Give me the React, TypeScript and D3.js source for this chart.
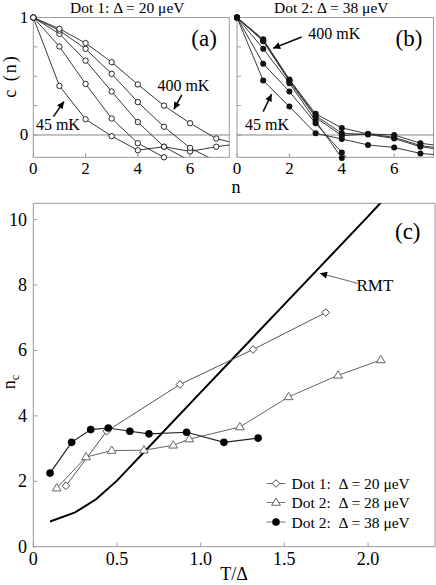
import * as d3 from 'd3';

const FONT = '"Liberation Serif", "Times New Roman", serif';

// ---- panel (a): Dot 1, c(n) at several temperatures, 45 mK (lowest) to 400 mK (top)
const A_45MK = [1, 0.418, 0.134, -0.01, -0.13, -0.1, -0.14, -0.1, -0.07];
const A_T2 = [1, 0.753, 0.435, 0.14, -0.07, -0.19];
const A_T3 = [1, 0.861, 0.633, 0.37, 0.11, -0.1, -0.22];
const A_T4 = [1, 0.889, 0.733, 0.52, 0.28, 0.07, -0.11, -0.225];
const A_400MK = [1, 0.904, 0.782, 0.62, 0.43, 0.25, 0.1, -0.03, -0.087];

// ---- panel (b): Dot 2
const B_45MK = [1, 0.464, 0.242, 0.014, -0.034, -0.085, -0.106, -0.157, -0.175];
const B_T2 = [1, 0.607, 0.37, 0.1, -0.149, -0.4];
const B_T3 = [1, 0.735, 0.441, 0.12, -0.197, -0.45];
const B_T4 = [1, 0.797, 0.458, 0.15, -0.006, 0.009, -0.02, -0.09, -0.12];
const B_T5 = [1, 0.805, 0.465, 0.165, 0.014, 0.005, -0.03, -0.1, -0.13];
const B_400MK = [1, 0.815, 0.473, 0.18, 0.06, 0.009, 0.0, -0.07, -0.1];

const N_TICKS = [0, 2, 4, 6];
const C_TICKS = [0, 0.25, 0.5, 0.75, 1];
const C_LABELS = [0, 1];

// ---- panel (c): n_c vs T/Delta
const RMT_T = [0.1, 0.25, 0.375, 0.5, 0.75, 1.0, 1.5, 2.0, 2.2];
const RMT_N = [0.77, 1.05, 1.45, 2.02, 3.37, 4.72, 7.41, 10.1, 11.2];

const DOT1_T = [0.195, 0.438, 0.876, 1.313, 1.747];
const DOT1_N = [1.86, 3.53, 4.96, 6.03, 7.16];

const DOT2_28_T = [0.14, 0.315, 0.468, 0.661, 0.836, 0.932, 1.234, 1.525, 1.821, 2.076];
const DOT2_28_N = [1.79, 2.74, 2.94, 2.95, 3.1, 3.29, 3.66, 4.58, 5.24, 5.71];

const DOT2_38_T = [0.1, 0.229, 0.343, 0.448, 0.577, 0.691, 0.916, 1.139, 1.343];
const DOT2_38_N = [2.25, 3.19, 3.58, 3.63, 3.53, 3.45, 3.5, 3.19, 3.32];

const T_TICKS = [0, 0.5, 1, 1.5, 2];
const T_TICK_LABELS = ['0', '0.5', '1.0', '1.5', '2.0'];
const NC_TICKS = [0, 2, 4, 6, 8, 10];

const LEGEND = ['Dot 1:  \u0394 = 20 \u03bceV', 'Dot 2:  \u0394 = 28 \u03bceV', 'Dot 2:  \u0394 = 38 \u03bceV'];

const AXIS = '#9a9a9a';

type Ann = { text: string; tx: number; ty: number; head: [number, number]; tail: [number, number] };

function SmallPanel({
  id, left, right, curves, filled, title, tag, showY, anns,
}: {
  id: string; left: number; right: number; curves: number[][]; filled: boolean;
  title: string; tag: string; showY: boolean; anns: Ann[];
}) {
  const top = 17.5;
  const bottom = 157.3;
  const x = d3.scaleLinear().domain([0, 7.5]).range([left, right]);
  const y = d3.scaleLinear().domain([-0.19, 1]).range([bottom, top]);
  const line = d3.line<number>().x((_, i) => x(i)).y(d => y(d));

  return (
    <g>
      <clipPath id={`clip-${id}`}>
        <rect x={left} y={top} width={right - left} height={bottom - top} />
      </clipPath>
      <rect x={left} y={top} width={right - left} height={bottom - top} fill="none" stroke={AXIS} strokeWidth={1} />
      {/* zero line */}
      <line x1={left} x2={right} y1={y(0)} y2={y(0)} stroke="#777" strokeWidth={0.9} />
      {C_TICKS.map(t => (
        <line key={t} x1={left} x2={left + 4} y1={y(t)} y2={y(t)} stroke={AXIS} />
      ))}
      {N_TICKS.map(t => (
        <g key={t}>
          <line x1={x(t)} x2={x(t)} y1={bottom} y2={bottom - 4} stroke={AXIS} />
          <text x={x(t)} y={174} textAnchor="middle" fontSize={17} fontFamily={FONT}>{t}</text>
        </g>
      ))}
      {showY && C_LABELS.map(t => (
        <text key={t} x={left - 5} y={y(t)} textAnchor="end" dominantBaseline="central" fontSize={17} fontFamily={FONT}>{t}</text>
      ))}
      <text x={(left + right) / 2 - 4} y={13} textAnchor="middle" fontSize={15.5} fontFamily={FONT}>{title}</text>
      <text x={right - 38} y={46} fontSize={23} fontFamily={FONT}>{tag}</text>

      <g clipPath={`url(#clip-${id})`}>
        {curves.map((c, i) => (
          <path key={i} d={line(c) ?? ''} fill="none" stroke="#222" strokeWidth={0.9} />
        ))}
      </g>
      {curves.map((c, i) =>
        c.map((v, n) => (n <= 7 && v >= -0.2 ? (
          <circle key={`${i}-${n}`} cx={x(n)} cy={y(v)} r={filled ? 3 : 2.7}
            fill={filled ? '#111' : '#fff'} stroke="#111" strokeWidth={filled ? 0 : 0.9} />
        ) : null))
      )}
      {anns.map(a => (
        <g key={a.text}>
          <text x={x(a.tx)} y={y(a.ty)} fontSize={16} fontFamily={FONT}>{a.text}</text>
          <line x1={x(a.tail[0])} y1={y(a.tail[1])} x2={x(a.head[0])} y2={y(a.head[1])}
            stroke="#111" strokeWidth={1.6} markerEnd="url(#ah)" />
        </g>
      ))}
    </g>
  );
}

function diamond(cx: number, cy: number, r: number) {
  return `M${cx},${cy - r}L${cx + r},${cy}L${cx},${cy + r}L${cx - r},${cy}Z`;
}
function triangle(cx: number, cy: number, r: number) {
  return `M${cx},${cy - r}L${cx + r * 0.95},${cy + r * 0.6}L${cx - r * 0.95},${cy + r * 0.6}Z`;
}

function PanelC() {
  const left = 33.3, right = 435, top = 203.3, bottom = 546.7;
  const x = d3.scaleLinear().domain([0, 2.4]).range([left, right]);
  const y = d3.scaleLinear().domain([0, 10.5]).range([bottom, top]);
  const line = d3.line<[number, number]>().x(d => x(d[0])).y(d => y(d[1]));
  const zip = (a: number[], b: number[]) => a.map((v, i) => [v, b[i]] as [number, number]);

  const rmt = zip(RMT_T, RMT_N);
  const d1 = zip(DOT1_T, DOT1_N);
  const d28 = zip(DOT2_28_T, DOT2_28_N);
  const d38 = zip(DOT2_38_T, DOT2_38_N);

  const legendY = [483.5, 502.5, 522];

  return (
    <g>
      <clipPath id="clip-c">
        <rect x={left} y={top} width={right - left} height={bottom - top} />
      </clipPath>
      <rect x={left} y={top} width={right - left} height={bottom - top} fill="none" stroke={AXIS} strokeWidth={1} />
      {NC_TICKS.map(t => (
        <g key={t}>
          <line x1={left} x2={left + 4} y1={y(t)} y2={y(t)} stroke={AXIS} />
          <text x={27} y={y(t)} textAnchor="end" dominantBaseline="central" fontSize={18} fontFamily={FONT}>{t}</text>
        </g>
      ))}
      {T_TICKS.map((t, i) => (
        <g key={t}>
          <line x1={x(t)} x2={x(t)} y1={bottom} y2={bottom - 4} stroke={AXIS} />
          <text x={x(t)} y={565} textAnchor="middle" fontSize={18} fontFamily={FONT}>{T_TICK_LABELS[i]}</text>
        </g>
      ))}
      <text x={234} y={580} textAnchor="middle" fontSize={18} fontFamily={FONT}>T/{'\u0394'}</text>
      <text transform="translate(14.5,382) rotate(-90)" textAnchor="middle" fontSize={18} fontFamily={FONT}>
        n<tspan dy={4} fontSize={12}>c</tspan>
      </text>
      <text x={395} y={239} fontSize={23} fontFamily={FONT}>(c)</text>

      <g clipPath="url(#clip-c)">
        <path d={line(rmt) ?? ''} fill="none" stroke="#000" strokeWidth={2} />
      </g>
      <path d={line(d1) ?? ''} fill="none" stroke="#555" strokeWidth={1} />
      <path d={line(d28) ?? ''} fill="none" stroke="#666" strokeWidth={1} />
      <path d={line(d38) ?? ''} fill="none" stroke="#222" strokeWidth={1.2} />

      {d1.map((p, i) => <path key={`a${i}`} d={diamond(x(p[0]), y(p[1]), 3.8)} fill="#fff" stroke="#333" strokeWidth={0.9} />)}
      {d28.map((p, i) => <path key={`b${i}`} d={triangle(x(p[0]), y(p[1]), 4.6)} fill="#fff" stroke="#555" strokeWidth={0.9} />)}
      {d38.map((p, i) => <circle key={`c${i}`} cx={x(p[0])} cy={y(p[1])} r={3.8} fill="#000" />)}

      {/* RMT label */}
      <line x1={x(1.94)} y1={y(8.05)} x2={x(1.713)} y2={y(8.36)} stroke="#555" strokeWidth={0.9} markerEnd="url(#ah)" />
      <text x={356.5} y={291} fontSize={17} fontFamily={FONT}>RMT</text>

      {/* legend */}
      {legendY.map((ly, i) => (
        <g key={i}>
          <line x1={266.5} x2={285.5} y1={ly} y2={ly} stroke="#666" strokeWidth={0.9} />
          {i === 0 && <path d={diamond(276, ly, 3.8)} fill="#fff" stroke="#333" strokeWidth={0.9} />}
          {i === 1 && <path d={triangle(276, ly, 4.6)} fill="#fff" stroke="#555" strokeWidth={0.9} />}
          {i === 2 && <circle cx={276} cy={ly} r={3.8} fill="#000" />}
          <text x={291.5} y={ly} dominantBaseline="central" fontSize={15.5} fontFamily={FONT} style={{ whiteSpace: 'pre' }}>
            {LEGEND[i]}
          </text>
        </g>
      ))}
    </g>
  );
}

export default function App() {
  return (
    <svg width={436} height={585} style={{ position: 'absolute', left: 0, top: 0, background: '#fff' }}>
      <defs>
        <marker id="ah" viewBox="0 0 10 10" refX={10} refY={5} markerWidth={8} markerHeight={7}
          orient="auto" markerUnits="userSpaceOnUse">
          <path d="M0,0L10,5L0,10Z" fill="#000" />
        </marker>
      </defs>
      <rect width={436} height={585} fill="#fff" />

      <SmallPanel
        id="a" left={33.3} right={229.3}
        curves={[A_45MK, A_T2, A_T3, A_T4, A_400MK]}
        filled={false}
        title={'Dot 1: \u0394 = 20 \u03bceV'} tag="(a)" showY
        anns={[
          { text: '400 mK', tx: 4.75, ty: 0.378, head: [5.38, 0.219], tail: [5.68, 0.341] },
          { text: '45 mK', tx: 0.1, ty: 0.043, head: [1.17, 0.284], tail: [0.77, 0.156] },
        ]}
      />
      <SmallPanel
        id="b" left={237} right={433.5}
        curves={[B_45MK, B_T2, B_T3, B_T4, B_T5, B_400MK]}
        filled
        title={'Dot 2: \u0394 = 38 \u03bceV'} tag="(b)" showY={false}
        anns={[
          { text: '400 mK', tx: 2.72, ty: 0.814, head: [1.38, 0.739], tail: [2.47, 0.833] },
          { text: '45 mK', tx: 0.31, ty: 0.043, head: [1.32, 0.347], tail: [1.0, 0.198] },
        ]}
      />
      <text x={236} y={193} textAnchor="middle" fontSize={18} fontFamily={FONT}>n</text>
      <text transform="translate(16,76) rotate(-90)" textAnchor="middle" fontSize={18} letterSpacing={2} fontFamily={FONT}>
        c (n)
      </text>

      <PanelC />
    </svg>
  );
}
